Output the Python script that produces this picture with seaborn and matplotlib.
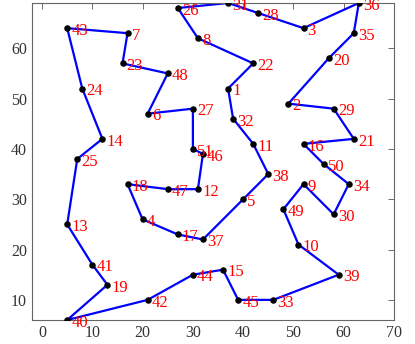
import numpy as np
import pandas as pd
import matplotlib
matplotlib.use("Agg")
import matplotlib.pyplot as plt
import seaborn as sns

# city coordinates (city id -> x, y)
city_id = list(range(1, 52))
city_x = [37, 49, 52, 20, 40, 21, 17, 31, 52, 51, 42, 31, 5, 12, 36, 52, 27, 17, 13, 57,
          62, 42, 16, 8, 7, 27, 30, 43, 58, 58, 37, 38, 46, 61, 62, 63, 32, 45, 59, 5,
          10, 21, 5, 30, 39, 32, 25, 25, 48, 56, 30]
city_y = [52, 49, 64, 26, 30, 47, 63, 62, 33, 21, 41, 32, 25, 42, 16, 41, 23, 33, 13, 58,
          42, 57, 57, 52, 38, 68, 48, 67, 48, 27, 69, 46, 10, 33, 63, 69, 22, 35, 15, 6,
          17, 10, 64, 15, 10, 39, 32, 55, 28, 37, 40]

# visiting order of the tour
route = [40, 19, 41, 13, 25, 14, 24, 43, 7, 23, 48, 6, 27, 51, 46, 12, 47, 18, 4, 17,
         37, 5, 38, 11, 32, 1, 22, 8, 26, 31, 28, 3, 36, 35, 20, 2, 29, 21, 16, 50,
         34, 30, 9, 49, 10, 39, 33, 45, 15, 44, 42, 40]

cities = pd.DataFrame({"id": city_id, "x": city_x, "y": city_y})
tour = cities.set_index("id").loc[route].reset_index()

sns.set_style("white")
plt.rcParams['font.family'] = ['Liberation Serif', 'DejaVu Serif']

fig = plt.figure(figsize=(4.15, 3.44), dpi=100)
ax = fig.add_axes([32 / 415, 1 - 320 / 344, (394 - 32) / 415, (320 - 3) / 344])

sns.lineplot(data=tour, x="x", y="y", sort=False, estimator=None,
             color="#0000ff", linewidth=1.6, ax=ax, zorder=2)
sns.scatterplot(data=cities, x="x", y="y", color="black", s=22,
                edgecolor="black", linewidth=0, ax=ax, zorder=3)

for i, xx, yy in zip(city_id, city_x, city_y):
    ax.annotate(str(i), (xx, yy), xytext=(3, -2), textcoords="offset points",
                ha="left", va="center", color="red", fontsize=12, zorder=4,
                annotation_clip=False)

ax.set_xlim(-2, 70)
ax.set_ylim(6, 69)
ax.set_xticks(range(0, 71, 10))
ax.set_yticks(range(10, 61, 10))
ax.set_xlabel("")
ax.set_ylabel("")
ax.tick_params(direction="in", top=True, right=True, length=4, width=0.6,
               colors="#555555", labelsize=11.5, labelcolor="#333333")
for sp in ax.spines.values():
    sp.set_color("#666666")
    sp.set_linewidth(0.8)

fig.savefig("out.png", dpi=100)
